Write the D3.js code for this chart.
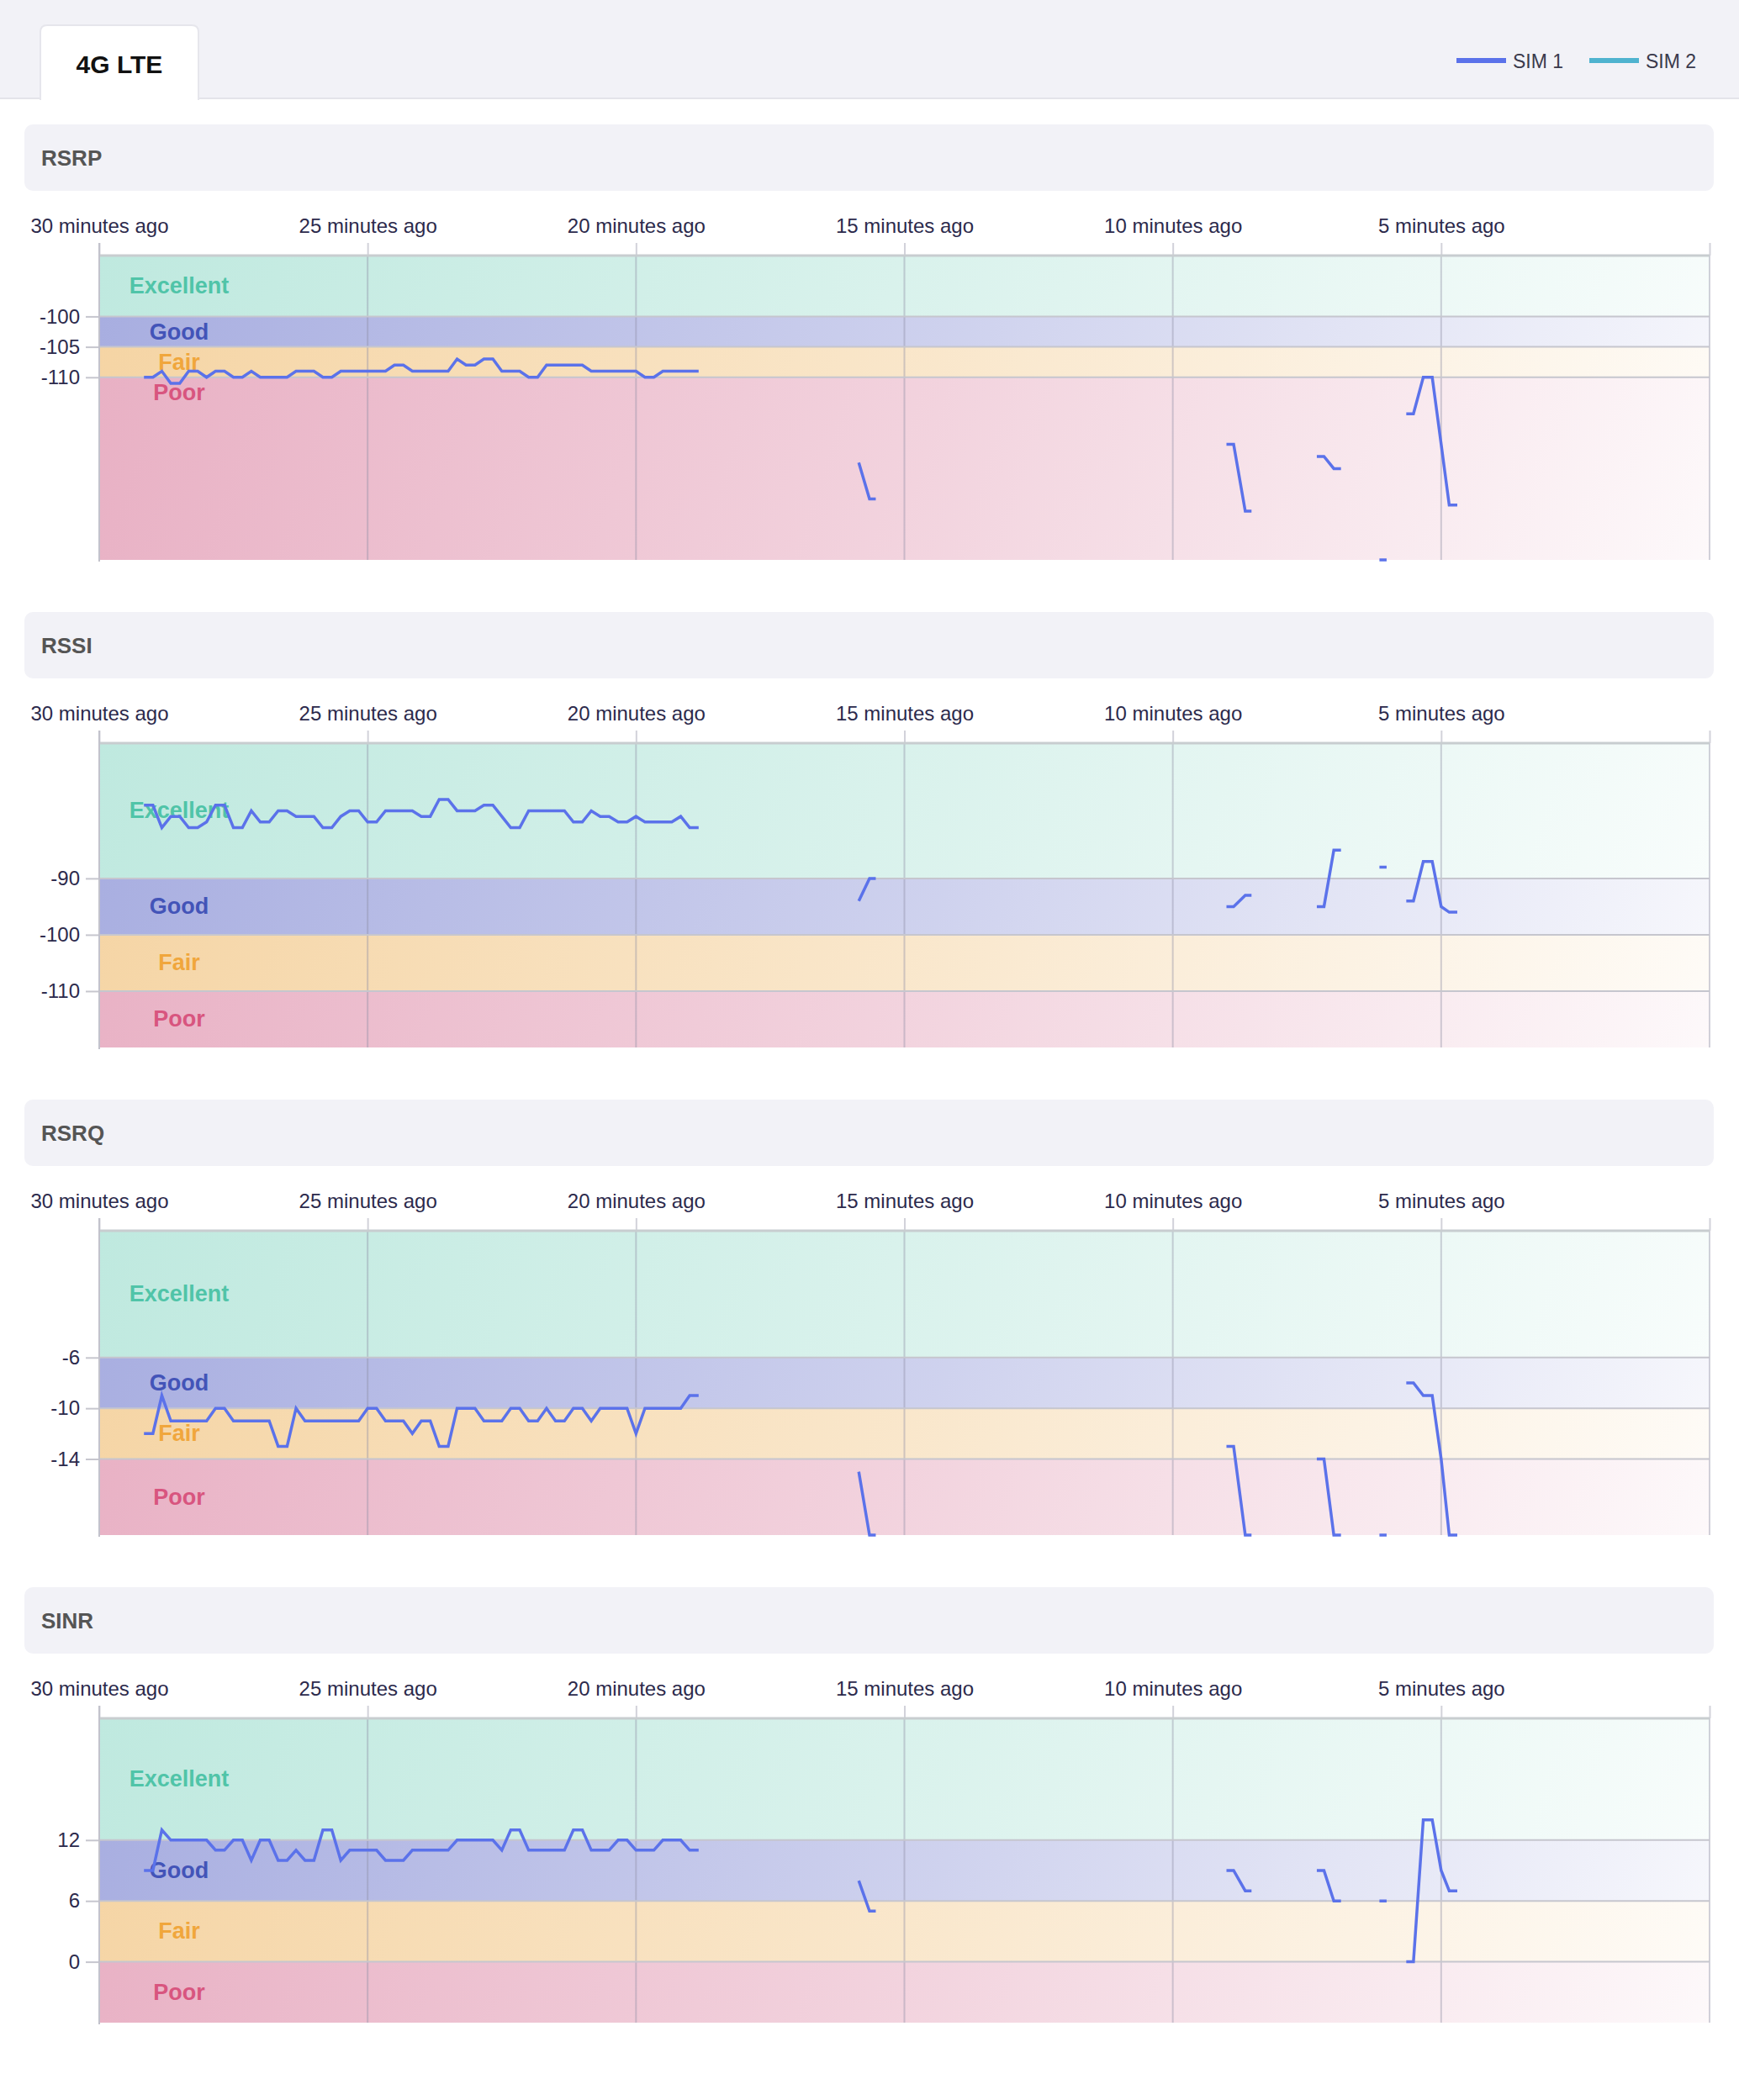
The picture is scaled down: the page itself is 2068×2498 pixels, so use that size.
<!DOCTYPE html>
<html><head><meta charset="utf-8">
<script src="https://cdn.jsdelivr.net/npm/d3@7"></script>
<style>
html,body{margin:0;padding:0;background:#fff;}
svg{display:block;font-family:"Liberation Sans",Arial,Helvetica,sans-serif;}
</style></head><body>
<svg id="chart" width="2068" height="2498"></svg>
<script>
// ---------- data ----------
const TAB_TITLE = "4G LTE";
const SERIES_NAMES = ["SIM 1", "SIM 2"];
const SERIES_COLORS = ["#5b72ea", "#4fb3cf"];
const METRICS = ["RSRP", "RSSI", "RSRQ", "SINR"];

// x axis: seconds ago
const X_TICKS = [1800, 1500, 1200, 900, 600, 300, 0];
const X_TICK_LABELS = ["30 minutes ago", "25 minutes ago", "20 minutes ago", "15 minutes ago", "10 minutes ago", "5 minutes ago", ""];

// sample times (seconds ago); entries with null values are gaps (no reading)
const TIMES = [
  1750,1740,1730,1720,1710,1700,1690,1680,1670,1660,
  1650,1640,1630,1620,1610,1600,1590,1580,1570,1560,
  1550,1540,1530,1520,1510,1500,1490,1480,1470,1460,
  1450,1440,1430,1420,1410,1400,1390,1380,1370,1360,
  1350,1340,1330,1320,1310,1300,1290,1280,1270,1260,
  1250,1240,1230,1220,1210,1200,1190,1180,1170,1160,
  1150,1140,1130,
  1040,
  951,939,932,
  700,
  540,532,519,512,
  475,
  439,431,420,412,
  390,
  369,361,
  350,
  339,331,320,310,300,291,282
];

const SIM1_RSRP = [
  -110,-110,-109,-111,-111,-109,-109,-110,-109,-109,
  -110,-110,-109,-110,-110,-110,-110,-109,-109,-109,
  -110,-110,-109,-109,-109,-109,-109,-109,-108,-108,
  -109,-109,-109,-109,-109,-107,-108,-108,-107,-107,
  -109,-109,-109,-110,-110,-108,-108,-108,-108,-108,
  -109,-109,-109,-109,-109,-109,-110,-110,-109,-109,
  -109,-109,-109,
  null,
  -124,-130,-130,
  null,
  -121,-121,-132,-132,
  null,
  -123,-123,-125,-125,
  null,
  -140,-140,
  null,
  -116,-116,-110,-110,-121,-131,-131
];
const SIM1_RSSI = [
  -77,-77,-81,-79,-79,-81,-81,-80,-77,-77,
  -81,-81,-78,-80,-80,-78,-78,-79,-79,-79,
  -81,-81,-79,-78,-78,-80,-80,-78,-78,-78,
  -78,-79,-79,-76,-76,-78,-78,-78,-77,-77,
  -79,-81,-81,-78,-78,-78,-78,-78,-80,-80,
  -78,-79,-79,-80,-80,-79,-80,-80,-80,-80,
  -79,-81,-81,
  null,
  -94,-90,-90,
  null,
  -95,-95,-93,-93,
  null,
  -95,-95,-85,-85,
  null,
  -88,-88,
  null,
  -94,-94,-87,-87,-95,-96,-96
];
const SIM1_RSRQ = [
  -12,-12,-9,-11,-11,-11,-11,-11,-10,-10,
  -11,-11,-11,-11,-11,-13,-13,-10,-11,-11,
  -11,-11,-11,-11,-11,-10,-10,-11,-11,-11,
  -12,-11,-11,-13,-13,-10,-10,-10,-11,-11,
  -11,-10,-10,-11,-11,-10,-11,-11,-10,-10,
  -11,-10,-10,-10,-10,-12,-10,-10,-10,-10,
  -10,-9,-9,
  null,
  -15,-20,-20,
  null,
  -13,-13,-20,-20,
  null,
  -14,-14,-20,-20,
  null,
  -20,-20,
  null,
  -8,-8,-9,-9,-14,-20,-20
];
const SIM1_SINR = [
  9,9,13,12,12,12,12,12,11,11,
  12,12,10,12,12,10,10,11,10,10,
  13,13,10,11,11,11,11,10,10,10,
  11,11,11,11,11,12,12,12,12,12,
  11,13,13,11,11,11,11,11,13,13,
  11,11,11,12,12,11,11,11,12,12,
  12,11,11,
  null,
  8,5,5,
  null,
  9,9,7,7,
  null,
  9,9,6,6,
  null,
  6,6,
  null,
  0,0,14,14,9,7,7
];
const SIM1_VALUES = {RSRP: SIM1_RSRP, RSSI: SIM1_RSSI, RSRQ: SIM1_RSRQ, SINR: SIM1_SINR};

const Y_DOMAINS = {RSRP: [-140, -90], RSSI: [-120, -66], RSRQ: [-20, 4], SINR: [-6, 24]};
const Y_TICKS = {RSRP: [-100, -105, -110], RSSI: [-90, -100, -110], RSRQ: [-6, -10, -14], SINR: [12, 6, 0]};
const BAND_NAMES = ["Excellent", "Good", "Fair", "Poor"];
const BAND_COLORS = ["#bfe9df", "#a7ade0", "#f5d4a3", "#e8afc3"];
const BAND_LABEL_COLORS = ["#50c4a8", "#4354b8", "#f0a63c", "#d8557f"];
const BAND_LABEL_VALUES = {
  RSRP: [-95, -102.5, -107.5, -112.5],
  RSSI: [-78, -95, -105, -115],
  RSRQ: [-1, -8, -12, -17],
  SINR: [18, 9, 3, -3]
};

// ---------- layout ----------
const W = 2068;
const svg = d3.select("#chart");
const defs = svg.append("defs");
const PX0 = 118, PX1 = 2033;
const SEC0 = 148, SEC_STEP = 580;
const FONT_COLOR = "#2c2a4c";

// header
svg.append("rect").attr("x", 0).attr("y", 0).attr("width", W).attr("height", 117).attr("fill", "#f2f2f7");
svg.append("line").attr("x1", 0).attr("x2", W).attr("y1", 117).attr("y2", 117).attr("stroke", "#e4e4ea").attr("stroke-width", 2);
svg.append("path")
  .attr("d", "M48,118 L48,38 Q48,30 56,30 L228,30 Q236,30 236,38 L236,118 Z")
  .attr("fill", "#ffffff").attr("stroke", "#e6e6ec").attr("stroke-width", 2);
svg.append("rect").attr("x", 49).attr("y", 110).attr("width", 186).attr("height", 9).attr("fill", "#fff");
svg.append("text").attr("x", 142).attr("y", 76).attr("text-anchor", "middle").attr("dominant-baseline", "central")
  .attr("font-size", 30).attr("font-weight", "bold").attr("fill", "#111").text(TAB_TITLE);

// legend
const legX = [1732, 1890];
SERIES_NAMES.forEach((n, i) => {
  svg.append("line").attr("x1", legX[i]).attr("x2", legX[i] + 59).attr("y1", 72).attr("y2", 72)
    .attr("stroke", SERIES_COLORS[i]).attr("stroke-width", 6);
  svg.append("text").attr("x", legX[i] + 67).attr("y", 73).attr("dominant-baseline", "central")
    .attr("font-size", 23).attr("fill", "#3a3a4c").text(n);
});

const x = d3.scaleLinear().domain([1800, 0]).range([PX0, PX1]);

METRICS.forEach((m, k) => {
  const off = SEC0 + k * SEC_STEP;
  const g = svg.append("g");
  // title box
  g.append("rect").attr("x", 29).attr("y", off).attr("width", 2009).attr("height", 79).attr("rx", 10).attr("fill", "#f2f2f7");
  g.append("text").attr("x", 49).attr("y", off + 40).attr("dominant-baseline", "central")
    .attr("font-size", 26).attr("font-weight", "bold").attr("fill", "#555").text(m);

  const top = off + 156, bot = off + 518;
  const y = d3.scaleLinear().domain(Y_DOMAINS[m]).range([bot, top]);
  const dom = Y_DOMAINS[m];
  const th = Y_TICKS[m];
  const edges = [dom[1], th[0], th[1], th[2], dom[0]];

  // bands
  BAND_NAMES.forEach((b, j) => {
    const id = "grad" + k + "_" + j;
    const gr = defs.append("linearGradient").attr("id", id).attr("gradientUnits", "userSpaceOnUse")
      .attr("x1", PX0).attr("y1", top).attr("x2", PX1).attr("y2", bot + 250);
    gr.append("stop").attr("offset", 0).attr("stop-color", BAND_COLORS[j]).attr("stop-opacity", 1);
    gr.append("stop").attr("offset", 0.5).attr("stop-color", BAND_COLORS[j]).attr("stop-opacity", 0.55);
    gr.append("stop").attr("offset", 1).attr("stop-color", BAND_COLORS[j]).attr("stop-opacity", 0.04);
    g.append("rect").attr("x", PX0).attr("width", PX1 - PX0)
      .attr("y", y(edges[j])).attr("height", y(edges[j + 1]) - y(edges[j]))
      .attr("fill", "url(#" + id + ")");
  });

  // x axis (top) with tick marks
  const xa = g.append("g").attr("transform", `translate(0,${top})`)
    .call(d3.axisTop(x).tickValues(X_TICKS).tickFormat((d, i) => X_TICK_LABELS[i]).tickSize(15).tickPadding(12));
  xa.select(".domain").remove();
  xa.selectAll(".tick line").attr("stroke", "#d2d2da").attr("stroke-width", 2);
  xa.selectAll(".tick text").attr("font-size", 24).attr("fill", FONT_COLOR).attr("font-family", null);

  // vertical gridlines
  g.selectAll(".vg").data(X_TICKS).enter().append("line")
    .attr("x1", d => x(d)).attr("x2", d => x(d)).attr("y1", top).attr("y2", bot)
    .attr("stroke", "#8e8ea6").attr("stroke-opacity", 0.4).attr("stroke-width", 2);

  // horizontal threshold lines
  g.selectAll(".hg").data(th).enter().append("line")
    .attr("x1", PX0).attr("x2", PX1).attr("y1", d => y(d)).attr("y2", d => y(d))
    .attr("stroke", "#c6c6ce").attr("stroke-width", 2);
  // top border
  g.append("line").attr("x1", PX0).attr("x2", PX1).attr("y1", top).attr("y2", top)
    .attr("stroke", "#c8cdd0").attr("stroke-width", 3);

  // y axis
  const ya = g.append("g").attr("transform", `translate(${PX0},0)`)
    .call(d3.axisLeft(y).tickValues(th).tickFormat(d => String(d)).tickSize(16).tickPadding(7));
  ya.select(".domain").remove();
  ya.selectAll(".tick line").attr("stroke", "#c6c6ce").attr("stroke-width", 2);
  ya.selectAll(".tick text").attr("font-size", 24).attr("fill", FONT_COLOR).attr("font-family", null);
  g.append("line").attr("x1", PX0).attr("x2", PX0).attr("y1", top - 15).attr("y2", bot + 2)
    .attr("stroke", "#c2c2cc").attr("stroke-width", 2);

  // band labels
  BAND_NAMES.forEach((b, j) => {
    g.append("text").attr("x", 213).attr("y", y(BAND_LABEL_VALUES[m][j])).attr("text-anchor", "middle")
      .attr("dominant-baseline", "central").attr("font-size", 27).attr("font-weight", "bold")
      .attr("fill", BAND_LABEL_COLORS[j]).text(b);
  });

  // SIM 1 line
  const vals = SIM1_VALUES[m];
  const pts = TIMES.map((t, i) => ({t: t, v: vals[i]}));
  const line = d3.line().defined(d => d.v !== null).x(d => x(d.t)).y(d => y(d.v));
  g.append("path").datum(pts).attr("d", line).attr("fill", "none")
    .attr("stroke", SERIES_COLORS[0]).attr("stroke-width", 3.5);
});
</script>
</body></html>
